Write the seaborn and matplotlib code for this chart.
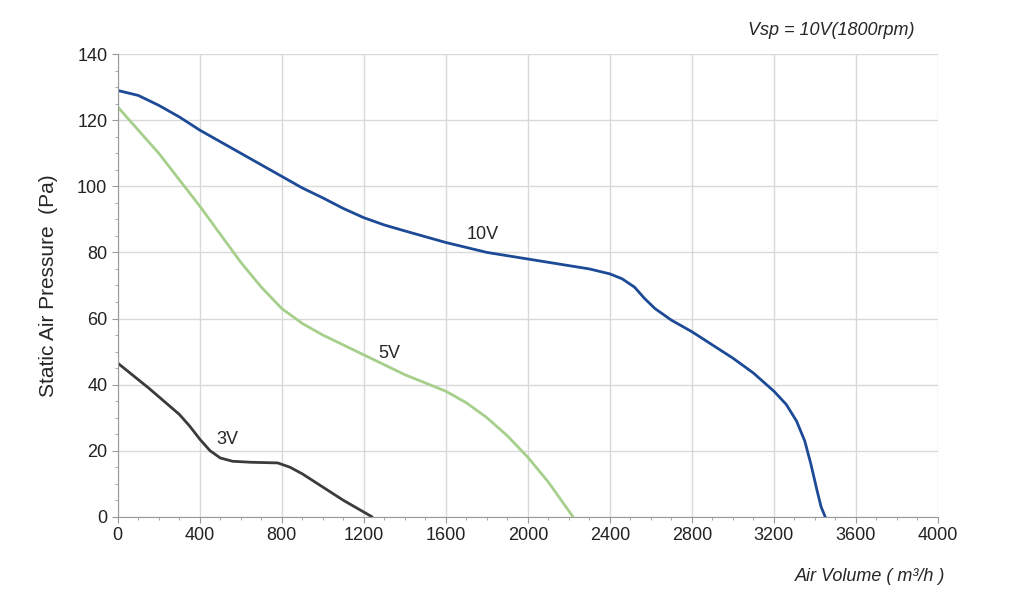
import numpy as np
import pandas as pd
import matplotlib
matplotlib.use('Agg')
import matplotlib.pyplot as plt
import seaborn as sns
from matplotlib.ticker import MultipleLocator

# === Curve data ===
v10_flow = [0, 100, 200, 300, 400, 600, 800, 900, 1000, 1100, 1200, 1300, 1400, 1600, 1800, 2000, 2200, 2300, 2400, 2460, 2520, 2570, 2620, 2700, 2800, 3000, 3100, 3200, 3260, 3310, 3350, 3380, 3410, 3430, 3450]
v10_pres = [129, 127.5, 124.5, 121, 117, 110, 103, 99.5, 96.5, 93.3, 90.5, 88.3, 86.5, 83, 80, 78, 76, 75, 73.5, 72, 69.5, 66, 63, 59.5, 56, 48, 43.5, 38, 34, 29, 23, 16, 8, 3, 0]
v5_flow = [0, 100, 200, 300, 400, 500, 600, 700, 800, 900, 1000, 1200, 1400, 1600, 1700, 1800, 1900, 2000, 2100, 2220]
v5_pres = [124, 117, 110, 102, 94, 85.5, 77, 69.5, 63, 58.5, 55, 49, 43, 38, 34.5, 30, 24.5, 18, 10.5, 0]
v3_flow = [0, 150, 300, 350, 400, 450, 500, 560, 650, 780, 840, 900, 1000, 1100, 1240]
v3_pres = [46.5, 39, 31, 27.5, 23.5, 20, 17.8, 16.8, 16.5, 16.3, 15, 13, 9, 5, 0]

rows = []
for name, f, p in [('10V', v10_flow, v10_pres), ('5V', v5_flow, v5_pres), ('3V', v3_flow, v3_pres)]:
    for a, b in zip(f, p):
        rows.append({'speed': name, 'flow': a, 'pressure': b})
df = pd.DataFrame(rows)

sns.set_style('white')
plt.rcParams['font.family'] = ['Liberation Sans', 'DejaVu Sans']
fig = plt.figure(figsize=(10.24, 6.08), dpi=100)
ax = fig.add_axes([0.115, 0.150, 0.801, 0.761])

palette = {'10V': '#1c4a96', '5V': '#a6cf8c', '3V': '#3b3b3b'}
sns.lineplot(data=df, x='flow', y='pressure', hue='speed', palette=palette,
             sort=False, estimator=None, linewidth=2, legend=False, ax=ax)
for line in ax.lines:
    line.set_solid_joinstyle('round')

ax.set_xlim(0, 4000)
ax.set_ylim(0, 140)
ax.xaxis.set_major_locator(MultipleLocator(400))
ax.xaxis.set_minor_locator(MultipleLocator(100))
ax.yaxis.set_major_locator(MultipleLocator(20))
ax.yaxis.set_minor_locator(MultipleLocator(5))
ax.grid(True, which='major', color='#d9d9d9', linewidth=1)
for s in ['top', 'right']:
    ax.spines[s].set_visible(False)
for s in ['left', 'bottom']:
    ax.spines[s].set_color('#999999')
ax.tick_params(which='both', direction='out', colors='#999999', labelcolor='#222222',
               labelsize=13, bottom=True, left=True)
ax.tick_params(which='major', length=4)
ax.tick_params(which='minor', length=2)

ax.set_xlabel('')
ax.set_ylabel('Static Air Pressure  (Pa)', fontsize=15, labelpad=14)

ax.text(1700, 84, '10V', fontsize=13)
ax.text(1270, 48, '5V', fontsize=13)
ax.text(480, 22, '3V', fontsize=13)

fig.text(0.893, 0.942, 'Vsp = 10V(1800rpm)', fontsize=13, style='italic', ha='right')
fig.text(0.923, 0.045, 'Air Volume ( m³/h )', fontsize=13, style='italic', ha='right')

fig.savefig('out.png', dpi=100, facecolor='white')
